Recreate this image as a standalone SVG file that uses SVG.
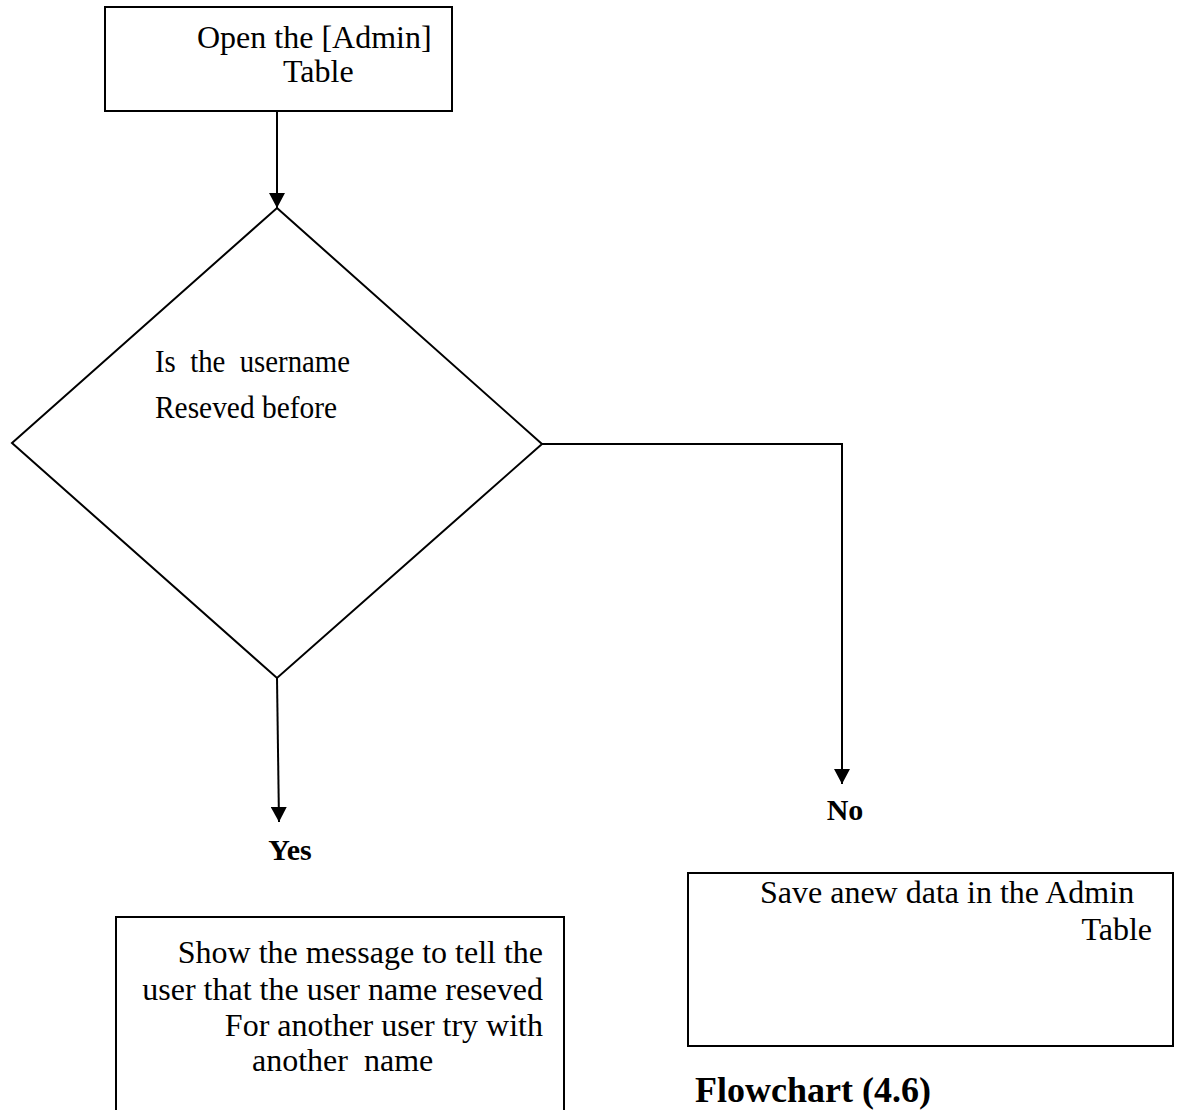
<svg xmlns="http://www.w3.org/2000/svg" width="1181" height="1110" viewBox="0 0 1181 1110">
  <style>
    .shape { fill: #ffffff; stroke: #000000; stroke-width: 2; }
    .edge { fill: none; stroke: #000000; stroke-width: 2; }
    .txt { font-family: "Liberation Serif", "Times New Roman", serif; font-size: 32px; fill: #000000; }
    .lbl { font-family: "Liberation Serif", "Times New Roman", serif; font-size: 30px; font-weight: bold; fill: #000000; }
    .title { font-family: "Liberation Serif", "Times New Roman", serif; font-size: 36px; font-weight: bold; fill: #000000; }
  </style>
  <defs>
    <marker id="arrow" markerUnits="userSpaceOnUse" markerWidth="16" markerHeight="16" refX="15" refY="8" orient="auto">
      <path d="M0,0 L15,8 L0,16 Z" fill="#000000"/>
    </marker>
  </defs>
  <rect width="1181" height="1110" fill="#ffffff"/>

  <!-- connectors -->
  <g id="connectors">
    <line class="edge" x1="277" y1="111" x2="277" y2="208" marker-end="url(#arrow)"/>
    <line class="edge" x1="277" y1="678" x2="279" y2="822" marker-end="url(#arrow)"/>
    <polyline class="edge" points="542,444 842,444 842,784" marker-end="url(#arrow)"/>
  </g>

  <!-- start: open table -->
  <g id="open-table">
    <rect class="shape" x="105" y="7" width="347" height="104"/>
    <text class="txt" x="197" y="48">Open the [Admin]</text>
    <text class="txt" x="283" y="82">Table</text>
  </g>

  <!-- decision -->
  <g id="check-username">
    <polygon class="shape" points="277,208 542,444 277,678 12,443"/>
    <text class="txt" x="155" y="372" font-size="29" textLength="195" lengthAdjust="spacingAndGlyphs" xml:space="preserve">Is  the  username</text>
    <text class="txt" x="155" y="418" font-size="29" textLength="182" lengthAdjust="spacingAndGlyphs">Reseved before</text>
  </g>

  <!-- branch labels -->
  <g id="label-yes">
    <text class="lbl" x="290" y="860" text-anchor="middle">Yes</text>
  </g>
  <g id="label-no">
    <text class="lbl" x="845" y="820" text-anchor="middle">No</text>
  </g>

  <!-- yes branch: message -->
  <g id="show-message">
    <rect class="shape" x="116" y="917" width="448" height="210"/>
    <text class="txt" x="543" y="963" text-anchor="end">Show the message to tell the</text>
    <text class="txt" x="543" y="1000" text-anchor="end">user that the user name reseved</text>
    <text class="txt" x="543" y="1036" text-anchor="end">For another user try with</text>
    <text class="txt" x="252" y="1071" xml:space="preserve">another  name</text>
  </g>

  <!-- no branch: save -->
  <g id="save-data">
    <rect class="shape" x="688" y="873" width="485" height="173"/>
    <text class="txt" x="760" y="903">Save anew data in the Admin</text>
    <text class="txt" x="1152" y="940" text-anchor="end">Table</text>
  </g>

  <text class="title" x="695" y="1102">Flowchart (4.6)</text>
</svg>
